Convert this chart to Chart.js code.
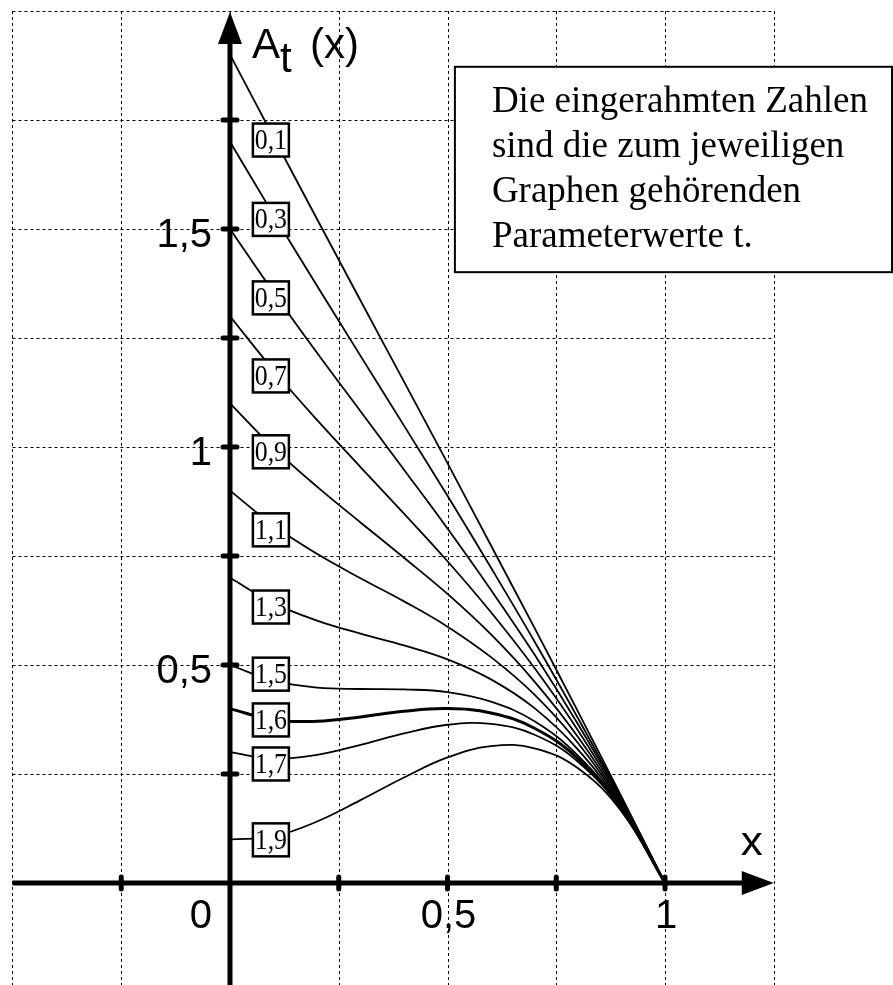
<!DOCTYPE html>
<html lang="de">
<head>
<meta charset="utf-8">
<title>A_t(x)</title>
<script src="https://cdn.jsdelivr.net/npm/chart.js@4.4.1/dist/chart.umd.min.js"></script>
<style>
  html, body { margin: 0; padding: 0; background: #fff; }
  #wrap { position: relative; width: 893px; height: 985px; }
</style>
</head>
<body>
<div id="wrap"><canvas id="chartAt"></canvas></div>
<script>
// ── Daten ─────────────────────────────────────────────────
const xWerte = [0, 0.1, 0.2, 0.3, 0.4, 0.5, 0.6, 0.7, 0.8, 0.9, 1];
const parameter = ['0,1', '0,3', '0,5', '0,7', '0,9', '1,1', '1,3', '1,5', '1,6', '1,7', '1,9'];

const t01 = [1.900, 1.711, 1.523, 1.336, 1.150, 0.963, 0.774, 0.585, 0.393, 0.198, 0];
const t03 = [1.700, 1.533, 1.370, 1.209, 1.049, 0.888, 0.723, 0.554, 0.378, 0.194, 0];
const t05 = [1.500, 1.355, 1.216, 1.082, 0.948, 0.813, 0.672, 0.524, 0.364, 0.191, 0];
const t07 = [1.300, 1.176, 1.062, 0.954, 0.847, 0.738, 0.621, 0.493, 0.350, 0.187, 0];
const t09 = [1.100, 0.998, 0.909, 0.827, 0.746, 0.663, 0.570, 0.462, 0.335, 0.183, 0];
const t11 = [0.900, 0.820, 0.755, 0.699, 0.646, 0.588, 0.518, 0.432, 0.321, 0.179, 0];
const t13 = [0.700, 0.642, 0.602, 0.572, 0.545, 0.513, 0.467, 0.401, 0.306, 0.175, 0];
const t15 = [0.500, 0.464, 0.448, 0.445, 0.444, 0.438, 0.416, 0.371, 0.292, 0.172, 0];
const t16 = [0.400, 0.374, 0.371, 0.381, 0.394, 0.400, 0.390, 0.355, 0.285, 0.170, 0];
const t17 = [0.300, 0.285, 0.294, 0.317, 0.343, 0.363, 0.365, 0.340, 0.278, 0.168, 0];
const t19 = [0.100, 0.107, 0.141, 0.190, 0.242, 0.288, 0.314, 0.309, 0.263, 0.164, 0];

const reihen = [t01, t03, t05, t07, t09, t11, t13, t15, t16, t17, t19];

// Achsenbeschriftung / Striche / Gitter
const xBeschriftung = [0, 0.5, 1];
const yBeschriftung = [0.5, 1, 1.5];
const xStriche = [-0.25, 0.25, 0.5, 0.75, 1];
const yStriche = [0.25, 0.5, 0.75, 1, 1.25, 1.5, 1.75];
const gitterX = [-0.5, -0.25, 0, 0.25, 0.5, 0.75, 1, 1.25];
const gitterY = [0.25, 0.5, 0.75, 1, 1.25, 1.5, 1.75, 2];

// Lage der eingerahmten Zahlen (Koordinaten im Diagramm)
const kastenX = 0.094;
const kastenY = [1.704, 1.522, 1.342, 1.163, 0.989, 0.810, 0.633, 0.479, 0.374, 0.273, 0.099];

const hinweis = ['Die eingerahmten Zahlen', 'sind die zum jeweiligen', 'Graphen gehörenden', 'Parameterwerte t.'];

const komma = v => String(v).replace('.', ',');

// ── Zeichnen: Gitter, Achsen, Beschriftung ────────────────
const zeichnung = {
    id: 'zeichnung',
    beforeDatasetsDraw(chart) {
        const { ctx, scales: { x, y } } = chart;
        ctx.save();
        ctx.strokeStyle = '#000';
        ctx.lineWidth = 1;
        ctx.setLineDash([3, 3]);
        const links = x.getPixelForValue(gitterX[0]);
        const rechts = x.getPixelForValue(gitterX[gitterX.length - 1]);
        const oben = y.getPixelForValue(gitterY[gitterY.length - 1]);
        gitterX.forEach(v => {
            const px = Math.round(x.getPixelForValue(v)) + 0.5;
            ctx.beginPath(); ctx.moveTo(px, oben); ctx.lineTo(px, chart.height); ctx.stroke();
        });
        gitterY.forEach(v => {
            const py = Math.round(y.getPixelForValue(v)) + 0.5;
            ctx.beginPath(); ctx.moveTo(links, py); ctx.lineTo(rechts, py); ctx.stroke();
        });
        ctx.restore();
    },
    afterDatasetsDraw(chart) {
        const { ctx, scales: { x, y } } = chart;
        const x0 = x.getPixelForValue(0);
        const y0 = y.getPixelForValue(0);
        ctx.save();
        ctx.fillStyle = '#000';
        ctx.strokeStyle = '#000';

        // y-Achse mit Pfeil
        const yTop = y.getPixelForValue(2) + 1;
        ctx.lineWidth = 5;
        ctx.beginPath(); ctx.moveTo(x0, chart.height); ctx.lineTo(x0, yTop + 28); ctx.stroke();
        ctx.beginPath();
        ctx.moveTo(x0, yTop); ctx.lineTo(x0 - 12, yTop + 32); ctx.lineTo(x0 + 12, yTop + 32);
        ctx.closePath(); ctx.fill();

        // x-Achse mit Pfeil
        const xLeft = x.getPixelForValue(-0.5);
        const xTip = x.getPixelForValue(1.25);
        ctx.beginPath(); ctx.moveTo(xLeft, y0); ctx.lineTo(xTip - 28, y0); ctx.stroke();
        ctx.beginPath();
        ctx.moveTo(xTip, y0); ctx.lineTo(xTip - 32, y0 - 12); ctx.lineTo(xTip - 32, y0 + 12);
        ctx.closePath(); ctx.fill();

        // Striche
        ctx.lineCap = 'round';
        ctx.lineWidth = 5;
        yStriche.forEach(v => {
            const py = y.getPixelForValue(v);
            ctx.beginPath(); ctx.moveTo(x0 - 7, py); ctx.lineTo(x0 + 7, py); ctx.stroke();
        });
        xStriche.forEach(v => {
            const px = x.getPixelForValue(v);
            ctx.beginPath(); ctx.moveTo(px, y0 - 6); ctx.lineTo(px, y0 + 6); ctx.stroke();
        });

        // Zahlen an den Achsen
        ctx.font = '40px "Liberation Sans", Arial, sans-serif';
        ctx.textBaseline = 'alphabetic';
        ctx.textAlign = 'right';
        yBeschriftung.forEach(v => {
            ctx.fillText(komma(v), x0 - 18, y.getPixelForValue(v) + 18);
        });
        xBeschriftung.forEach(v => {
            if (v === 0) {
                ctx.textAlign = 'right';
                ctx.fillText('0', x0 - 18, y0 + 45);
            } else {
                ctx.textAlign = 'center';
                ctx.fillText(komma(v), x.getPixelForValue(v) + 1, y0 + 45);
            }
        });

        // Achsentitel
        ctx.textAlign = 'left';
        ctx.font = '42px "Liberation Sans", Arial, sans-serif';
        ctx.fillText('A', x0 + 22, yTop + 46);
        ctx.fillText('t', x0 + 50, yTop + 60);
        ctx.fillText('(x)', x0 + 80, yTop + 46);
        ctx.save();
        ctx.translate(xTip - 33, y0 - 28);
        ctx.scale(1.1, 1);
        ctx.font = '40px "Liberation Sans", Arial, sans-serif';
        ctx.fillText('x', 0, 0);
        ctx.restore();

        // eingerahmte Parameterwerte
        ctx.lineCap = 'butt';
        ctx.lineWidth = 2.5;
        const kx = x.getPixelForValue(kastenX);
        kastenY.forEach((v, i) => {
            const ky = y.getPixelForValue(v);
            ctx.fillStyle = '#fff';
            ctx.fillRect(kx - 18, ky - 16.5, 36, 33);
            ctx.strokeRect(kx - 18, ky - 16.5, 36, 33);
            ctx.fillStyle = '#000';
            ctx.save();
            ctx.translate(kx, ky + 9);
            ctx.scale(0.86, 1);
            ctx.font = '30px "Liberation Serif", "Times New Roman", serif';
            ctx.textAlign = 'center';
            ctx.fillText(parameter[i], 0, 0);
            ctx.restore();
        });

        // Hinweiskasten
        const bx = x.getPixelForValue(0.517);
        const by = y.getPixelForValue(1.872);
        const bw = chart.width - 1 - bx;
        const bh = y.getPixelForValue(1.401) - by;
        ctx.fillStyle = '#fff';
        ctx.fillRect(bx, by, bw, bh);
        ctx.lineWidth = 2;
        ctx.strokeRect(bx, by, bw, bh);
        ctx.fillStyle = '#000';
        ctx.textAlign = 'left';
        ctx.font = '37px "Liberation Serif", "Times New Roman", serif';
        hinweis.forEach((zeile, i) => {
            ctx.fillText(zeile, bx + 37, by + 45 + i * 45);
        });

        ctx.restore();
    }
};

// ── Diagramm ──────────────────────────────────────────────
new Chart(document.getElementById('chartAt'), {
    type: 'line',
    data: {
        datasets: reihen.map((werte, i) => ({
            label: 't = ' + parameter[i],
            data: werte.map((w, k) => ({ x: xWerte[k], y: w })),
            borderColor: '#000',
            borderWidth: parameter[i] === '1,6' ? 3 : 1.8,
            pointRadius: 0,
            tension: 0.4,
            fill: false
        }))
    },
    options: {
        responsive: true,
        maintainAspectRatio: false,
        animation: false,
        devicePixelRatio: 1,
        layout: { padding: 0 },
        plugins: { legend: { display: false }, tooltip: { enabled: false }, title: { display: false } },
        scales: {
            x: { type: 'linear', min: -0.5287, max: 1.5241, display: false },
            y: { type: 'linear', min: -0.2339, max: 2.0252, display: false }
        }
    },
    plugins: [zeichnung]
});
</script>
</body>
</html>
